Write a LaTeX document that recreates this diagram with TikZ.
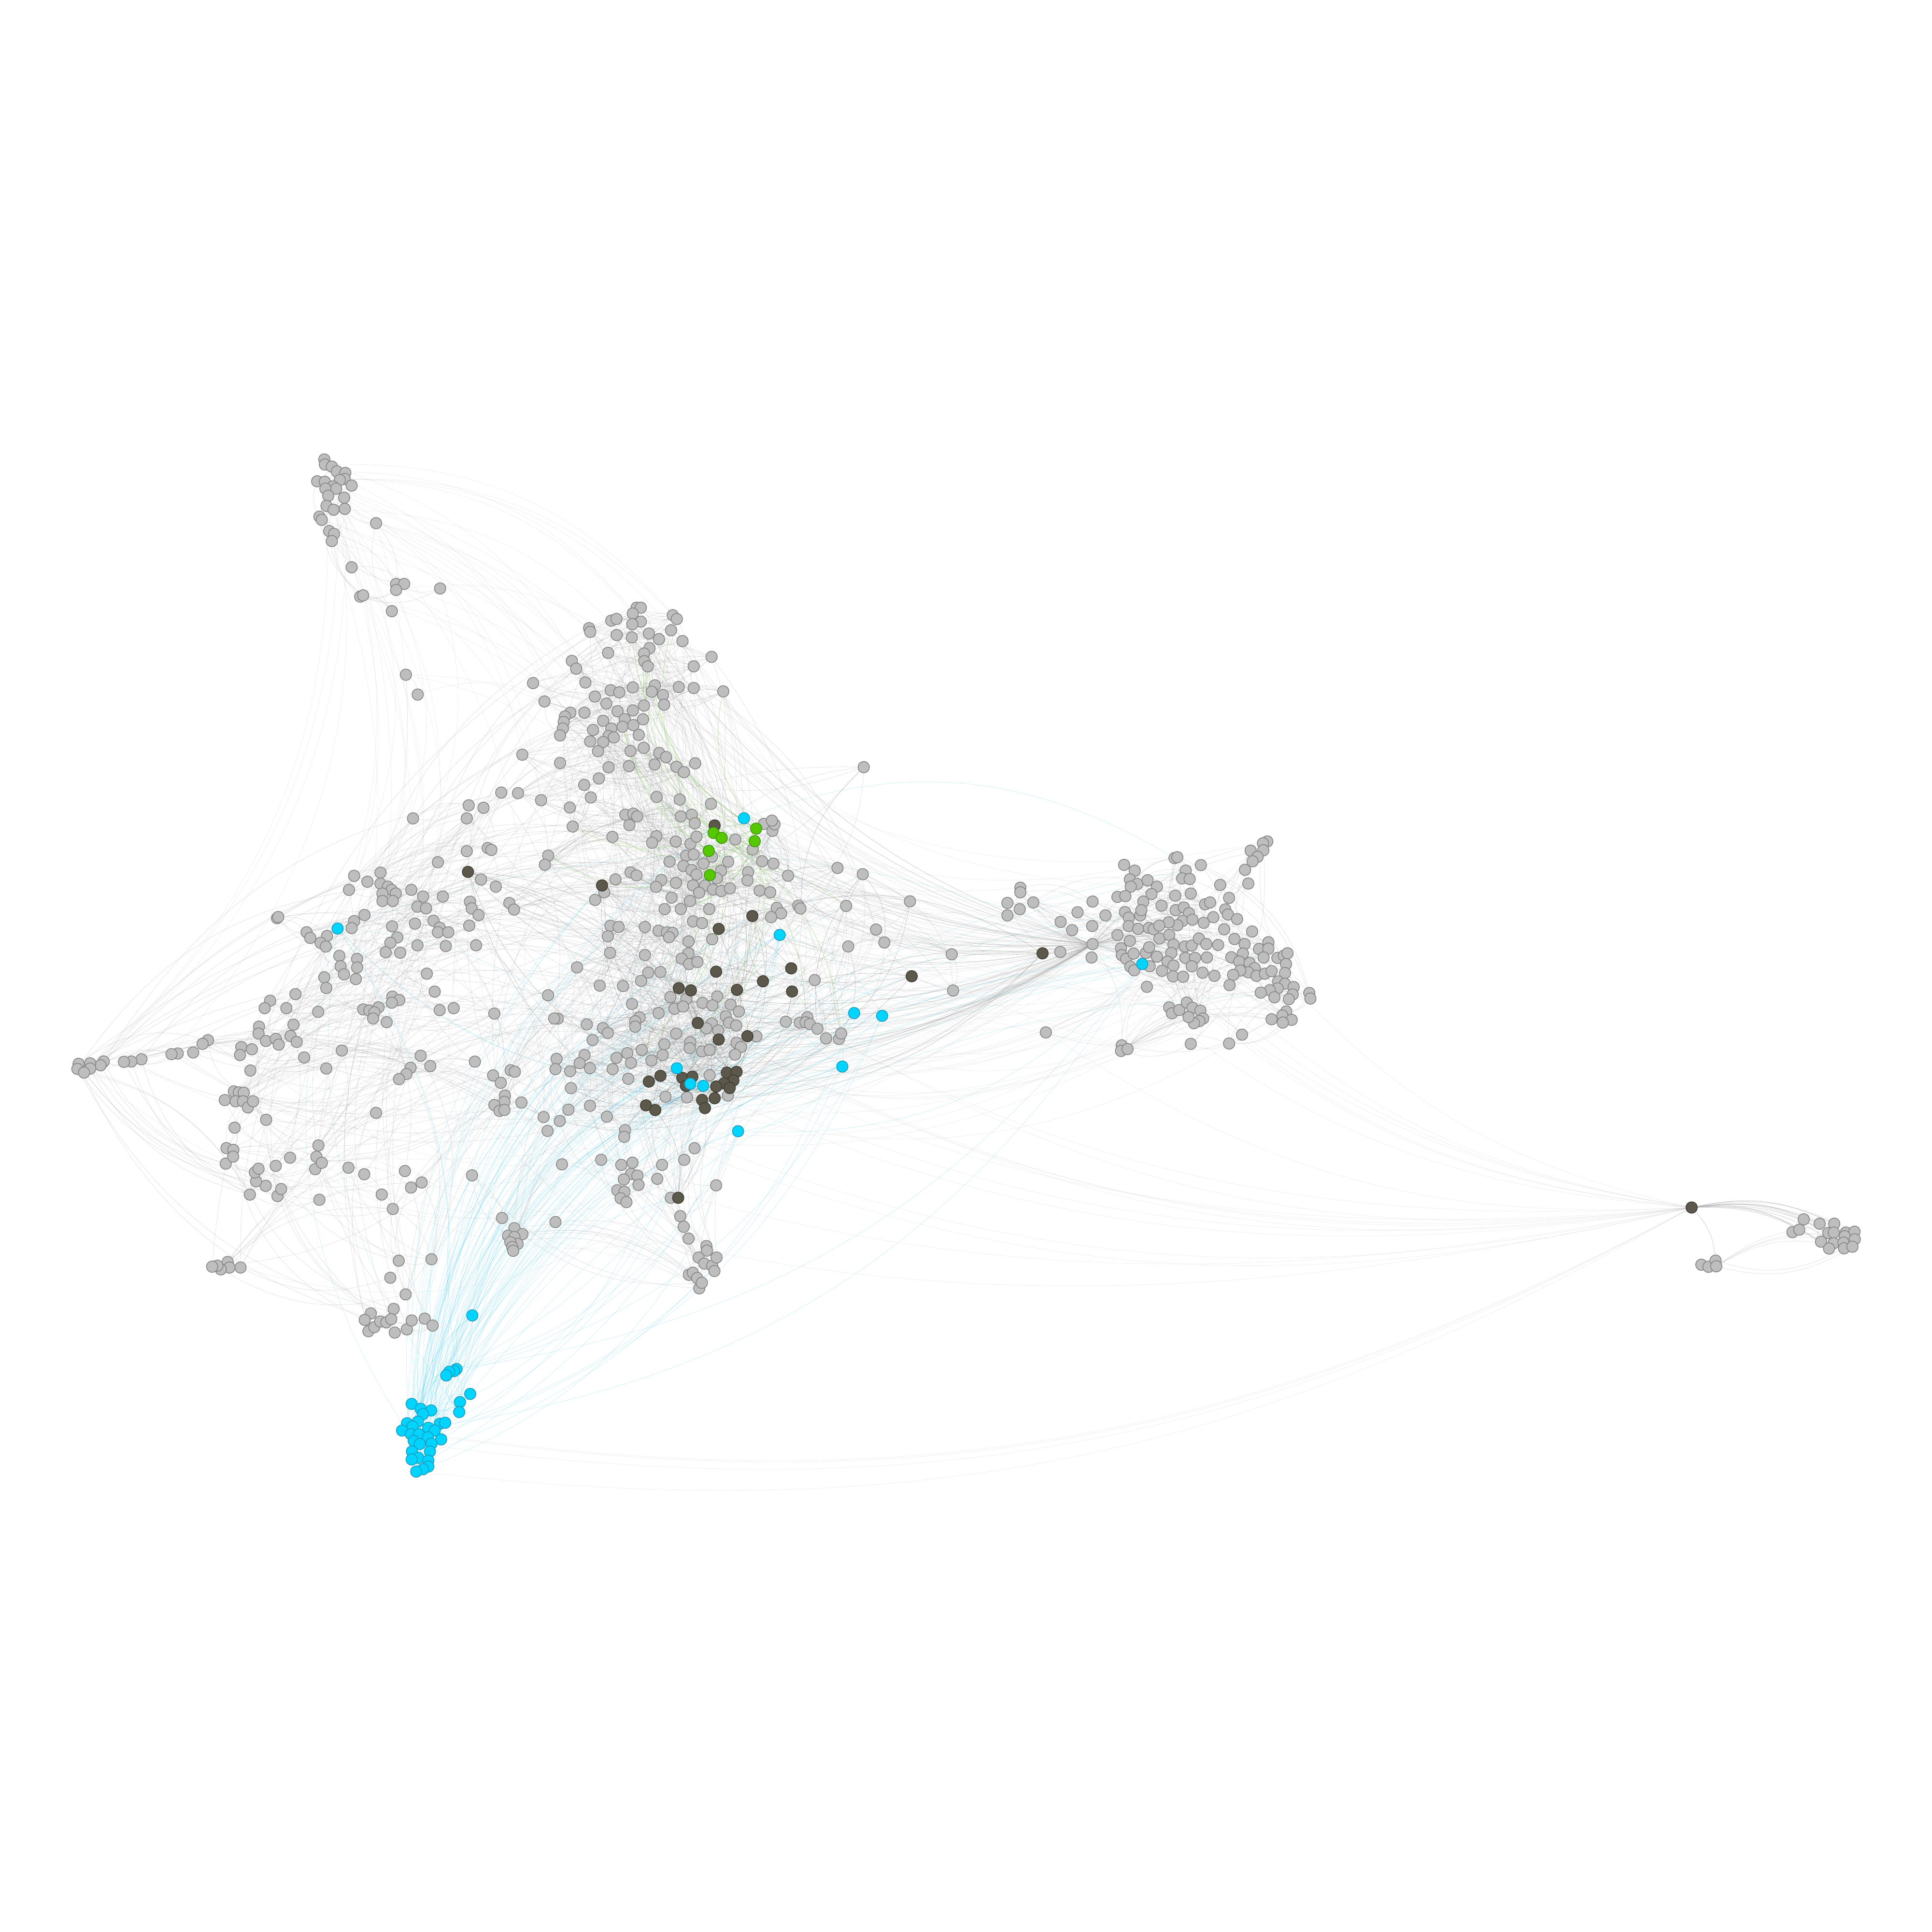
\documentclass[tikz,border=0pt]{standalone}
\usepackage{tikz}
\usetikzlibrary{backgrounds}
\definecolor{nodeGray}{HTML}{BEBEBE}
\definecolor{rimGray}{HTML}{858585}
\definecolor{nodeDark}{HTML}{5C584C}
\definecolor{rimDark}{HTML}{3F3C34}
\definecolor{nodeCyan}{HTML}{00D4FF}
\definecolor{rimCyan}{HTML}{1C9CBC}
\definecolor{nodeGreen}{HTML}{55C800}
\definecolor{rimGreen}{HTML}{3C9410}
\definecolor{linkGray}{HTML}{A0A0A0}
\definecolor{linkCyan}{HTML}{50CCEE}
\definecolor{linkGreen}{HTML}{6CC83A}

% links between neighbours of one group
\newcommand\grouplinks[3]{%
  \foreach \i in {1,...,#2}{%
    \pgfmathtruncatemacro\jj{\i+random(1,4)}%
    \ifnum\jj>#2\relax\else\draw[#3] (#1\i) to[bend left=22] (#1\jj);\fi
    \pgfmathtruncatemacro\kk{\i+random(3,12)}%
    \ifnum\kk>#2\relax\else\draw[#3] (#1\kk) to[bend left=22] (#1\i);\fi
  }}
% random links between two groups
\newcommand\crosslinks[6]{%
  \foreach \t in {1,...,#5}{%
    \pgfmathtruncatemacro\ia{random(1,#2)}%
    \pgfmathtruncatemacro\ib{random(1,#4)}%
    \draw[#6] (#1\ia) to[bend left=25] (#3\ib);
  }}
% links from one hub node into a group
\newcommand\hublinks[5]{%
  \foreach \t in {1,...,#4}{%
    \pgfmathtruncatemacro\ib{random(1,#3)}%
    \draw[#5] (#1) to[bend left=18] (#2\ib);
  }}

\begin{document}
\begin{tikzpicture}[
    x=0.12755mm, y=-0.12755mm,
    gnode/.style={circle, draw=rimGray, fill=nodeGray, line width=0.22pt,
                  minimum size=1.18mm, inner sep=0pt},
    dnode/.style={gnode, draw=rimDark, fill=nodeDark},
    cnode/.style={gnode, draw=rimCyan, fill=nodeCyan},
    enode/.style={gnode, draw=rimGreen, fill=nodeGreen},
    graylink/.style={draw=linkGray, line width=0.1pt, opacity=0.32},
    farlink/.style={draw=linkGray, line width=0.1pt, opacity=0.18},
    darklink/.style={draw=rimDark, line width=0.1pt, opacity=0.3},
    cyanlink/.style={draw=linkCyan, line width=0.1pt, opacity=0.3},
    greenlink/.style={draw=linkGreen, line width=0.12pt, opacity=0.45},
  ]
  \useasboundingbox (0,0) rectangle (1568,1568);

  % top-left arm
  \foreach \x/\y [count=\i] in {263.2/372.9, 263.7/377.0, 269.3/378.7, 273.4/382.6, 280.2/383.8, 279.8/388.7, 275.8/389.6, 257.4/390.6, 263.6/391.0, 270.2/394.8, 272.8/396.6, 264.1/396.6, 285.4/394.1, 266.4/402.3, 279.3/403.9, 265.0/410.6, 270.7/413.7, 279.8/413.0, 259.2/419.3, 261.1/421.9, 267.2/431.0, 271.1/433.3, 269.3/439.1, 305.2/424.6, 285.4/460.4, 321.5/473.9, 328.0/473.9, 321.5/478.8, 357.2/477.6, 292.3/484.2, 294.7/483.2, 318.0/496.0, 329.4/547.6, 339.0/563.7}
    {\node[gnode] (tl\i) at (\x,\y) {}; \xdef\ntl{\i}}

  % centre, upper part
  \foreach \x/\y [count=\i] in {516.6/493.2, 520.1/493.2, 513.6/497.9, 496.1/503.7, 500.3/502.3, 520.1/504.5, 513.1/506.6, 478.1/509.8, 479.0/512.8, 546.0/499.3, 549.3/502.4, 500.5/515.4, 512.8/517.3, 526.6/514.2, 534.8/518.7, 544.6/511.5, 553.9/520.3, 527.1/526.1, 522.7/530.4, 522.9/536.6, 525.7/540.8, 493.5/529.9, 464.1/536.4, 467.6/542.7, 563.0/540.8, 577.5/533.1, 475.1/553.9, 432.6/554.4, 495.6/560.2, 502.6/561.9, 513.6/557.9, 531.5/556.2, 528.9/561.4, 538.1/564.0, 539.0/571.9, 550.9/557.6, 563.0/558.4, 587.0/561.1, 441.9/569.3, 482.8/565.3, 492.1/571.0, 462.9/578.4, 458.5/581.5, 457.5/585.9, 456.8/591.2, 454.5/596.8, 474.3/578.4, 501.2/577.2, 513.6/576.6, 522.7/572.6, 521.9/583.8, 507.0/583.6, 505.2/589.8, 514.0/588.5, 489.5/585.0, 496.1/591.2, 481.3/592.4, 493.9/597.3, 498.2/598.5, 479.0/601.7, 489.5/602.2, 485.3/609.7, 518.4/596.4, 522.4/606.9, 511.7/609.5, 535.0/611.1, 540.6/614.4, 423.9/612.5, 454.5/619.2, 493.9/622.7, 510.5/621.8, 531.3/620.4, 549.0/622.3, 555.1/626.7, 564.2/619.5, 486.0/631.8, 474.1/637.0, 420.4/643.7, 439.1/649.4, 479.5/647.2, 532.9/646.8, 551.6/648.9, 462.4/655.4, 464.8/670.8, 507.5/661.2, 514.0/660.3, 517.1/662.6, 510.8/669.6, 552.5/662.6, 561.4/661.2, 563.9/668.2, 577.0/652.4, 497.0/679.2, 532.7/678.7, 529.2/683.9, 548.5/683.0, 560.4/684.8, 565.3/679.0, 596.8/681.3, 444.9/694.4, 442.2/701.8, 556.9/694.4, 563.0/693.5, 577.9/695.3, 570.9/700.9, 591.0/699.3, 543.4/699.3, 554.6/702.8, 561.2/706.1, 565.3/709.8, 585.2/706.7, 511.7/708.0, 516.6/710.5, 499.5/713.7, 536.7/714.2, 532.4/719.8, 548.6/716.6, 562.4/718.6, 572.2/718.6, 578.7/721.9, 585.4/723.1, 592.4/721.0, 567.4/724.5, 581.7/712.8, 607.1/707.9, 606.7/714.5, 610.8/689.5, 618.5/699.0, 627.7/700.9, 619.9/668.7, 626.9/674.3, 628.6/669.0, 626.5/666.0, 639.6/710.7, 616.4/722.8, 625.1/724.2, 679.7/704.4, 483.0/730.3, 490.4/724.2, 545.0/728.5, 560.0/731.2, 539.4/737.8, 552.5/737.8, 575.6/737.8, 630.4/736.8, 633.9/741.3, 647.9/735.0, 649.6/737.3, 413.4/732.9, 417.2/738.2, 701.0/622.6}
    {\node[gnode] (ct\i) at (\x,\y) {}; \xdef\nct{\i}}

  % centre, lower part
  \foreach \x/\y [count=\i] in {495.4/751.3, 502.1/752.3, 493.3/759.9, 523.4/752.3, 534.5/755.3, 541.3/756.7, 545.8/757.1, 543.0/760.6, 562.5/747.8, 569.8/749.2, 558.8/764.1, 578.0/762.3, 558.8/773.7, 553.2/778.0, 559.3/782.4, 566.0/780.7, 495.1/773.3, 523.4/775.1, 468.3/785.1, 526.1/789.4, 536.0/788.9, 520.3/796.1, 486.7/799.9, 505.6/800.3, 544.1/809.2, 557.0/810.8, 582.1/808.7, 512.9/814.8, 547.4/818.7, 554.4/816.9, 570.2/813.9, 578.2/816.0, 592.9/815.3, 599.6/820.9, 589.1/824.8, 591.7/830.0, 597.5/832.3, 534.5/822.2, 519.1/825.7, 515.5/828.8, 515.5/833.2, 452.6/826.7, 476.2/831.4, 489.3/834.4, 493.3/838.4, 480.9/844.0, 548.8/838.8, 577.7/830.6, 573.3/834.6, 582.9/836.3, 613.9/841.1, 597.8/846.3, 601.3/849.8, 596.6/855.9, 539.2/847.5, 560.2/845.8, 559.7/850.7, 569.8/853.3, 575.9/852.1, 537.8/856.3, 520.8/852.1, 509.1/854.7, 500.3/858.5, 512.1/862.6, 528.7/860.7, 474.4/856.3, 470.4/862.9, 478.8/866.9, 497.2/867.7, 462.7/869.4, 451.7/859.4, 450.8/867.7, 509.9/875.5, 575.9/872.6, 540.1/890.1, 557.6/890.6, 590.8/889.2, 463.4/883.1, 478.8/897.4, 461.3/900.6, 492.5/906.3, 454.3/909.8, 507.3/917.2, 661.2/795.4, 637.7/829.2, 649.1/830.0, 655.2/825.6, 653.8/829.7, 657.3/831.1, 663.4/834.9, 670.4/842.8, 680.9/843.2, 682.7/838.8, 700.2/709.5, 686.7/735.2, 711.0/754.4, 688.4/768.1, 717.7/764.9, 625.8/744.3, 738.5/731.5, 772.4/774.5, 773.5/803.9}
    {\node[gnode] (cb\i) at (\x,\y) {}; \xdef\ncb{\i}}

  % left wing
  \foreach \x/\y [count=\i] in {335.2/664.2, 355.4/699.8, 378.8/664.2, 380.4/653.6, 392.4/655.6, 378.8/690.8, 395.8/688.2, 398.8/689.8, 390.4/713.8, 402.4/719.6, 287.4/710.8, 308.8/708.2, 298.2/715.6, 283.2/722.2, 308.8/717.2, 314.8/719.6, 317.8/722.2, 321.2/725.2, 310.4/725.2, 310.4/731.2, 318.8/731.2, 333.8/722.2, 343.4/727.6, 338.8/735.8, 345.8/737.2, 359.4/727.6, 381.4/731.8, 382.8/737.2, 388.4/742.6, 380.8/751.2, 351.8/747.2, 356.8/752.8, 355.4/756.6, 363.8/756.6, 336.8/749.6, 318.2/751.8, 322.4/760.8, 316.8/765.2, 313.0/772.8, 324.8/773.2, 338.8/767.2, 361.8/767.8, 386.4/767.2, 224.8/745.2, 225.8/744.2, 248.8/756.6, 251.8/761.2, 265.4/759.6, 260.2/765.2, 264.4/768.2, 287.4/747.6, 295.8/742.6, 285.4/753.2, 275.4/775.8, 276.4/784.2, 279.2/790.8, 289.8/778.2, 289.8/785.2, 288.8/794.6, 263.2/793.2, 264.8/801.8, 346.4/790.2, 352.8/804.8, 239.8/806.8, 219.2/812.2, 214.8/818.2, 232.4/818.2, 258.2/821.2, 294.8/819.2, 299.8/820.2, 307.2/817.6, 303.8/821.6, 302.8/826.6, 313.8/829.6, 318.4/808.8, 324.0/811.6, 318.0/813.8, 356.8/819.8, 368.2/818.2, 401.2/822.6, 210.2/833.2, 209.8/838.8, 215.8/844.8, 223.8/843.2, 235.8/840.8, 240.8/845.6, 226.2/847.8, 238.2/831.6, 195.8/849.8, 194.8/856.2, 204.4/851.6, 168.8/844.2, 164.4/847.2, 156.8/854.2, 203.2/868.8, 246.8/858.2, 264.8/867.2, 277.4/852.6, 341.4/856.8, 333.2/866.6, 329.8/871.6, 323.8/875.8, 349.2/865.2, 385.4/861.6, 400.2/872.8, 406.4/878.8, 189.8/885.8, 193.8/886.6, 197.8/886.8, 182.4/892.8, 191.2/893.8, 197.2/893.8, 201.2/898.8, 205.4/893.8, 216.0/908.8, 305.2/903.2, 190.4/915.2, 183.8/931.8, 189.4/933.2, 258.4/929.6, 235.4/939.6, 256.8/938.8, 406.8/643.2, 444.8/807.8, 449.8/826.6, 414.4/868.6, 417.8/869.8, 409.8/889.2, 409.4/894.2, 401.2/896.8, 405.4/901.6, 409.4/900.8, 423.2/894.8, 441.2/906.6, 444.4/917.8, 144.2/855.0, 139.2/855.5, 114.8/859.7, 106.6/861.5, 100.6/861.8, 84.2/861.5, 81.6/864.6, 73.2/863.0, 73.2/867.2, 63.8/863.4, 62.8/867.5, 68.2/870.5, 183.2/944.4, 189.2/938.7, 202.8/969.5, 225.2/970.7, 228.2/965.0, 215.6/962.4, 207.8/958.7, 206.8/951.5, 209.8/948.5, 223.8/946.2, 255.8/948.9, 259.2/973.7, 261.2/943.7, 282.8/947.7, 295.6/953.0, 309.8/969.5, 318.8/981.2, 333.6/963.8, 342.2/959.7, 328.6/950.4, 350.2/1022.0, 323.6/1023.2, 316.8/1037.0, 329.2/1050.5, 195.2/1028.7, 184.8/1024.2, 186.2/1028.7, 179.2/1030.2, 176.4/1027.2, 172.2/1028.0}
    {\node[gnode] (lf\i) at (\x,\y) {}; \xdef\nlf{\i}}

  % bottom spur and the small bunch below the left wing
  \foreach \x/\y [count=\i] in {506.6/922.6, 487.9/941.3, 504.2/945.4, 513.3/943.6, 512.1/952.7, 517.3/954.1, 506.3/957.2, 518.2/961.6, 501.0/966.0, 506.8/967.2, 503.7/972.5, 508.4/975.6, 537.3/945.4, 533.4/956.7, 555.3/941.3, 563.7/931.9, 581.2/962.0, 544.4/972.1, 552.1/987.0, 554.9/995.6, 558.8/1005.2, 573.3/1011.3, 573.7/1015.0, 567.0/1020.6, 571.6/1025.5, 578.0/1027.3, 581.5/1020.6, 579.8/1031.5, 559.1/1034.6, 562.3/1032.9, 565.8/1037.2, 567.5/1045.6, 569.6/1041.1, 456.1/945.0, 450.8/991.8, 383.1/953.9, 407.4/988.5, 417.5/996.8, 412.3/1002.9, 424.0/1001.6, 417.5/1004.0, 420.1/1009.5, 414.2/1008.2, 415.8/1012.1, 416.5/1015.1}
    {\node[gnode] (bt\i) at (\x,\y) {}; \xdef\nbt{\i}}

  \foreach \x/\y [count=\i] in {319.5/1062.3, 300.9/1066.0, 296.0/1071.2, 299.0/1080.4, 303.8/1077.1, 308.6/1072.5, 313.6/1073.2, 317.5/1070.6, 320.4/1081.5, 330.2/1078.9, 334.1/1071.7, 344.7/1070.2, 351.1/1075.8}
    {\node[gnode] (sw\i) at (\x,\y) {}; \xdef\nsw{\i}}

  % right cluster
  \node[gnode] (rhub) at (886.7,766.2) {};
  \foreach \x/\y [count=\i] in {1028.5/682.9, 1025.0/684.4, 1025.3/690.1, 1015.0/690.4, 1020.6/695.4, 1016.6/699.0, 1010.4/705.9, 1013.1/717.1, 990.3/718.2, 997.5/728.7, 994.4/738.1, 996.6/742.2, 1004.0/745.9, 984.7/744.4, 976.9/748.9, 993.5/754.2, 1016.2/756.0, 1001.9/762.1, 1010.1/766.2, 1021.8/770.2, 1029.4/764.7, 1029.4/769.9, 1025.5/777.1, 1008.7/773.9, 999.3/776.9, 1005.7/780.4, 1014.1/781.5, 1018.3/785.7, 1013.1/789.1, 1006.6/787.6, 1000.8/791.2, 997.9/799.5, 1019.8/792.0, 1026.6/790.2, 1032.0/788.2, 1036.7/777.4, 1042.0/775.6, 1044.9/773.7, 1043.7/782.4, 1042.9/789.7, 1037.3/796.5, 1042.9/798.4, 1049.9/801.1, 1036.9/802.2, 1030.6/803.7, 1034.3/809.4, 1023.2/805.6, 1049.1/807.1, 1046.0/810.9, 1062.6/805.9, 1063.5/810.4, 1043.9/820.9, 1040.7/824.2, 1048.3/827.7, 1041.1/829.9, 1032.0/827.2, 1008.0/839.7, 997.5/846.9, 966.4/847.2, 910.4/848.4, 909.8/852.9, 915.1/851.4, 848.8/837.9, 930.8/800.9, 948.9/817.6, 951.1/822.4, 957.1/819.7, 963.2/813.7, 967.8/817.9, 974.2/820.2, 976.5/826.6, 973.4/828.7, 969.0/830.4, 964.6/825.4, 953.2/696.4, 955.5/695.7, 974.6/702.1, 962.3/706.5, 959.4/712.9, 965.5/713.4, 912.3/701.9, 920.9/706.6, 917.0/713.7, 923.0/717.4, 917.7/719.6, 931.4/714.4, 938.9/719.6, 934.5/725.6, 906.9/727.9, 913.3/727.2, 927.9/731.7, 953.8/726.9, 966.4/725.2, 942.7/735.0, 978.1/733.9, 982.1/732.4, 954.1/738.7, 960.8/736.5, 965.0/741.1, 959.7/747.4, 967.8/746.4, 955.5/750.9, 948.5/748.6, 913.0/740.2, 916.1/744.7, 925.4/742.9, 926.3/738.7, 916.0/751.6, 923.7/753.9, 932.4/753.1, 936.3/754.2, 940.8/751.2, 906.9/758.9, 917.0/763.6, 941.0/761.7, 948.9/758.7, 952.4/766.6, 961.6/768.1, 967.2/767.4, 973.0/761.7, 979.0/766.2, 988.6/766.9, 909.8/769.6, 910.4/775.2, 913.9/778.2, 920.0/773.9, 930.0/773.4, 932.6/768.8, 938.9/776.4, 950.6/773.4, 947.5/780.4, 952.4/783.7, 962.0/777.4, 969.9/777.4, 979.5/777.1, 967.2/784.2, 976.0/789.4, 943.1/787.9, 952.0/792.4, 960.2/792.7, 985.6/792.0, 917.4/784.5, 920.5/787.5, 933.1/784.2, 886.7/731.7, 886.4/751.5, 885.9/777.1, 897.2/742.9, 874.5/740.4, 860.8/748.2, 870.1/754.9, 860.5/772.6, 838.6/732.4, 828.1/720.4, 828.1/724.2, 817.6/732.8, 827.6/737.9, 817.6/742.9}
    {\node[gnode] (rt\i) at (\x,\y) {}; \xdef\nrt{\i}}

  % far right
  \foreach \x/\y [count=\i] in {1454.7/1000.0, 1460.2/998.0, 1463.9/989.6, 1476.8/993.1, 1488.6/993.1, 1483.8/1000.7, 1488.3/1000.3, 1498.1/1000.3, 1505.1/999.6, 1497.1/1003.3, 1505.3/1005.8, 1477.9/1007.7, 1488.1/1009.0, 1496.2/1008.5, 1484.4/1013.3, 1496.6/1013.1, 1503.4/1011.8, 1380.8/1026.4, 1386.6/1028.1, 1392.3/1023.1, 1392.9/1027.7}
    {\node[gnode] (fr\i) at (\x,\y) {}; \xdef\nfr{\i}}

  % dark nodes
  \node[dnode] (fhub) at (1372.9,980.0) {};
  \foreach \x/\y [count=\i] in {580.0/669.9, 488.6/718.6, 610.6/743.4, 583.3/753.9, 581.2/788.6, 642.1/785.9, 619.2/796.4, 642.8/804.7, 550.9/802.0, 560.7/803.8, 598.1/803.4, 566.3/830.2, 583.3/843.7, 606.6/841.0, 536.0/873.1, 526.6/877.8, 553.7/874.7, 561.9/873.8, 556.7/881.3, 589.9/870.5, 597.8/869.9, 595.2/876.9, 587.7/879.2, 592.2/883.0, 581.2/881.8, 580.0/891.3, 569.8/892.7, 572.1/899.3, 524.3/897.1, 531.8/900.9, 379.8/707.6, 550.4/972.1, 846.1/773.7, 739.9/792.3}
    {\node[dnode] (dk\i) at (\x,\y) {}; \xdef\ndk{\i}}

  % cyan nodes
  \foreach \x/\y [count=\i] in {603.8/664.1, 632.8/758.8, 693.2/822.2, 715.9/824.4, 683.6/865.6, 549.3/867.0, 560.2/879.6, 570.7/881.3, 599.0/918.1, 274.0/753.6, 927.0/782.4, 383.3/1067.6, 370.5/1111.1, 368.5/1112.7, 364.6/1113.3, 362.2/1116.3, 381.6/1131.3, 373.3/1137.9, 372.7/1146.0, 334.1/1139.4, 341.3/1143.4, 349.9/1144.7, 343.3/1147.7, 339.1/1153.8, 330.3/1155.1, 334.8/1157.7, 347.6/1158.8, 357.0/1155.5, 361.3/1154.7, 352.8/1161.0, 326.3/1161.0, 333.5/1164.0, 340.0/1164.0, 347.3/1166.5, 358.0/1168.2, 335.8/1169.5, 340.7/1171.9, 350.2/1171.7, 334.3/1178.0, 348.9/1178.0, 339.5/1183.2, 334.1/1184.5, 347.6/1185.4, 347.6/1190.2, 343.3/1192.4, 337.8/1194.3}
    {\node[cnode] (cy\i) at (\x,\y) {}; \xdef\ncy{\i}}

  % green nodes
  \foreach \x/\y [count=\i] in {579.1/676.0, 585.7/680.0, 575.2/690.6, 576.1/710.2, 613.7/672.5, 612.5/682.7}
    {\node[enode] (gr\i) at (\x,\y) {}; \xdef\ngr{\i}}

  \begin{scope}[on background layer]
    \fill[white] (0,0) rectangle (1568,1568);
    \pgfmathsetseed{11}
    \grouplinks{tl}{\ntl}{graylink}
    \grouplinks{ct}{\nct}{graylink}
    \grouplinks{ct}{\nct}{graylink}
    \grouplinks{cb}{\ncb}{graylink}
    \grouplinks{cb}{\ncb}{graylink}
    \grouplinks{lf}{\nlf}{graylink}
    \grouplinks{bt}{\nbt}{graylink}
    \grouplinks{sw}{\nsw}{graylink}
    \grouplinks{rt}{\nrt}{graylink}
    \grouplinks{fr}{\nfr}{graylink}
    \grouplinks{dk}{\ndk}{darklink}
    \grouplinks{cy}{\ncy}{cyanlink}
    \grouplinks{gr}{\ngr}{greenlink}
    \crosslinks{ct}{\nct}{ct}{\nct}{90}{graylink}
    \crosslinks{cb}{\ncb}{cb}{\ncb}{60}{graylink}
    \crosslinks{ct}{\nct}{cb}{\ncb}{120}{graylink}
    \crosslinks{tl}{\ntl}{ct}{\nct}{30}{farlink}
    \crosslinks{tl}{\ntl}{lf}{\nlf}{20}{farlink}
    \crosslinks{lf}{\nlf}{ct}{\nct}{60}{graylink}
    \crosslinks{lf}{\nlf}{cb}{\ncb}{60}{graylink}
    \crosslinks{lf}{\nlf}{lf}{\nlf}{50}{graylink}
    \crosslinks{bt}{\nbt}{cb}{\ncb}{40}{graylink}
    \crosslinks{bt}{\nbt}{lf}{\nlf}{18}{farlink}
    \crosslinks{sw}{\nsw}{lf}{\nlf}{16}{graylink}
    \crosslinks{rt}{\nrt}{ct}{\nct}{30}{farlink}
    \crosslinks{rt}{\nrt}{cb}{\ncb}{30}{farlink}
    \crosslinks{rt}{\nrt}{rt}{\nrt}{60}{graylink}
    \crosslinks{dk}{\ndk}{dk}{\ndk}{45}{darklink}
    \crosslinks{dk}{\ndk}{cb}{\ncb}{45}{graylink}
    \crosslinks{dk}{\ndk}{ct}{\nct}{20}{graylink}
    \crosslinks{cy}{\ncy}{cy}{\ncy}{60}{cyanlink}
    \crosslinks{cy}{\ncy}{dk}{\ndk}{35}{cyanlink}
    \crosslinks{cy}{\ncy}{cb}{\ncb}{30}{cyanlink}
    \crosslinks{cy}{\ncy}{rt}{\nrt}{10}{cyanlink}
    \crosslinks{gr}{\ngr}{ct}{\nct}{25}{greenlink}
    \crosslinks{gr}{\ngr}{cb}{\ncb}{8}{greenlink}
    \hublinks{rhub}{rt}{\nrt}{50}{graylink}
    \hublinks{rhub}{ct}{\nct}{30}{graylink}
    \hublinks{rhub}{cb}{\ncb}{30}{graylink}
    \hublinks{rhub}{lf}{\nlf}{12}{farlink}
    \hublinks{fhub}{fr}{\nfr}{24}{graylink}
    \hublinks{fhub}{rt}{\nrt}{8}{farlink}
    \hublinks{fhub}{cb}{\ncb}{8}{farlink}
    \hublinks{fhub}{cy}{\ncy}{4}{farlink}
    \hublinks{fhub}{lf}{\nlf}{4}{farlink}
  \end{scope}
\end{tikzpicture}
\end{document}
